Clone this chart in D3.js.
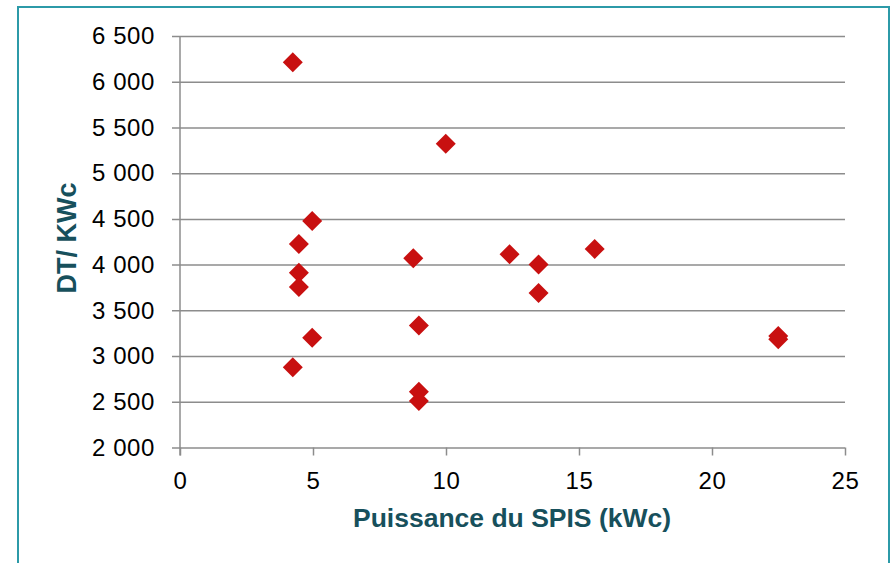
<!DOCTYPE html>
<html lang="fr">
	<head>
		<meta charset="utf-8">
		<title>DT/ KWc vs puissance du SPIS</title>
		<script src="https://d3js.org/d3.v7.min.js"></script>
		<style type="text/css">
			body, html {
				margin: 0;
				background: #fff;
			}
			svg {
				display: block;
				font-family: "Liberation Sans", Arial, sans-serif;
			}
		</style>
	</head>
	<body>
		<svg width="893" height="563"></svg>
		<script type="text/javascript">
		// puissance (kWc) et DT/KWc
		var puissance = [4.24, 9.99, 4.97, 4.47, 4.47, 4.47, 4.97, 4.24, 8.77, 8.98, 8.98, 8.98, 12.39, 13.48, 13.48, 15.59, 22.49, 22.49];
		var dtKwc = [6214, 5321, 4478, 4226, 3912, 3756, 3201, 2877, 4070, 3333, 2611, 2509, 4114, 4000, 3690, 4172, 3220, 3185];
		var xTicks = [0, 5, 10, 15, 20, 25];
		var yTicks = [2000, 2500, 3000, 3500, 4000, 4500, 5000, 5500, 6000, 6500];
		var xTitle = "Puissance du SPIS (kWc)";
		var yTitle = "DT/ KWc";

		var svg = d3.select("svg");

		// cadre
		svg.append("rect")
			.attr("x", 18)
			.attr("y", 7)
			.attr("width", 871)
			.attr("height", 570)
			.attr("fill", "none")
			.attr("stroke", "#2c9aa8")
			.attr("stroke-width", 2);

		var x = d3.scaleLinear()
			.domain([0, 25])
			.range([180, 845]);
		var y = d3.scaleLinear()
			.domain([2000, 6500])
			.range([447.5, 36]);

		var fmt = function(d) {
			return d3.format(",")(d).replace(",", " ");
		};

		// axe y + grille
		var yAxis = svg.append("g")
			.attr("transform", "translate(180,0)")
			.call(d3.axisLeft(y)
				.tickValues(yTicks)
				.tickFormat(fmt)
				.tickSize(8)
				.tickPadding(17));
		yAxis.select(".domain").remove();
		yAxis.selectAll(".tick line")
			.attr("x2", 665)
			.attr("x1", -8);

		// axe x
		var xAxis = svg.append("g")
			.attr("transform", "translate(0,447.5)")
			.call(d3.axisBottom(x)
				.tickValues(xTicks)
				.tickSize(8)
				.tickPadding(16));
		xAxis.select(".domain").remove();
		xAxis.selectAll(".tick line").attr("y1", 0);

		svg.append("line")
			.attr("x1", 180)
			.attr("x2", 180)
			.attr("y1", 36)
			.attr("y2", 455.5)
			.attr("stroke", "#8c8c8c")
			.attr("stroke-width", 1.5);

		svg.selectAll(".tick line")
			.attr("stroke", "#8c8c8c")
			.attr("stroke-width", 1.5);
		svg.selectAll(".tick text")
			.attr("fill", "#000")
			.style("font-size", "24px")
			.style("letter-spacing", "0.6px")
			.style("font-family", "'Liberation Sans', Arial, sans-serif");

		// titres
		svg.append("text")
			.attr("x", 512)
			.attr("y", 527)
			.attr("text-anchor", "middle")
			.attr("fill", "#17505c")
			.style("font-size", "26.5px")
			.style("font-weight", "bold")
			.text(xTitle);
		svg.append("text")
			.attr("transform", "translate(76,238) rotate(-90)")
			.attr("text-anchor", "middle")
			.attr("fill", "#17505c")
			.style("font-size", "27px")
			.style("font-weight", "bold")
			.text(yTitle);

		// points
		var points = puissance.map(function(p, i) {
			return {x: p, y: dtKwc[i]};
		});
		svg.append("g")
			.selectAll("path")
			.data(points)
			.enter()
			.append("path")
			.attr("d", d3.symbol(d3.symbolSquare).size(200))
			.attr("transform", function(d) {
				return "translate(" + x(d.x) + "," + y(d.y) + ") rotate(45)";
			})
			.attr("fill", "#c81010");
		</script>
	</body>
</html>
